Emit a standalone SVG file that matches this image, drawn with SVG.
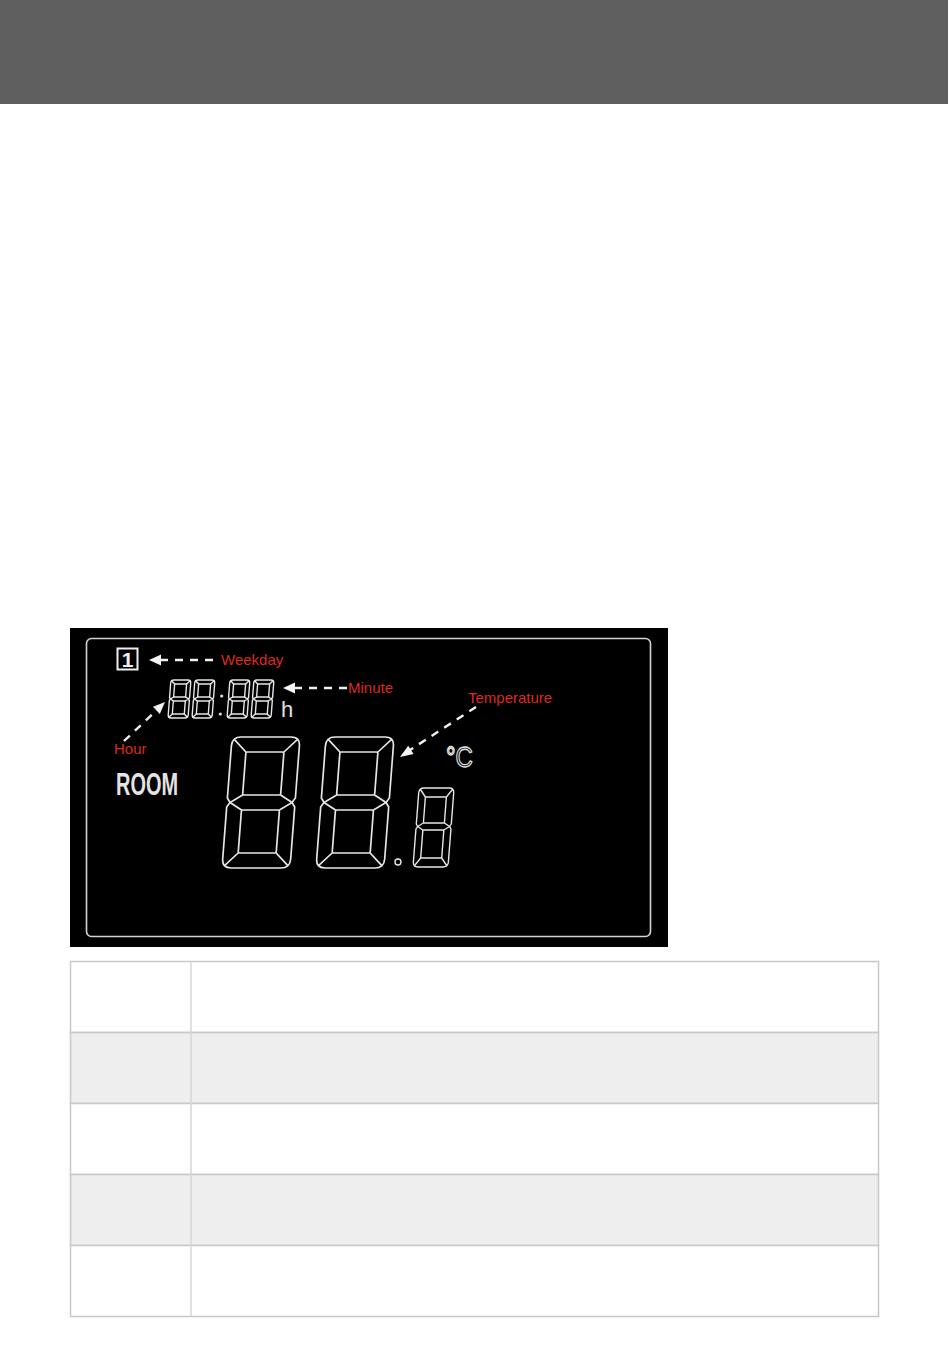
<svg xmlns="http://www.w3.org/2000/svg" xmlns:xlink="http://www.w3.org/1999/xlink" width="950" height="1358" viewBox="0 0 950 1358">
<style>
.seg{fill:none;stroke:#e6e6e6;stroke-linejoin:round;stroke-linecap:round}
.lbl{font-family:"Liberation Sans",Arial,sans-serif;font-size:15px;fill:#dc2a1e}
.dash{stroke:#f0f0f0;stroke-width:2.4;stroke-dasharray:8,7;fill:none}
.head{fill:#f4f4f4}
.cell{stroke:#c8c8c8;stroke-width:1.5}
</style>
<defs>
<g id="bigdigit" class="seg" stroke-width="1.7">
<path d="M9,-131 H59 Q68,-131 68,-122 V-70 L65,-65.5 L68,-61 V-9 Q68,0 59,0 H9 Q0,0 0,-9 V-61 L3,-65.5 L0,-70 V-122 Q0,-131 9,-131 Z"/>
<rect x="15" y="-116" width="38" height="43" rx="1.5"/>
<rect x="15" y="-58" width="38" height="43" rx="1.5"/>
<path d="M2.6,-128.4 L15,-116 M65.4,-128.4 L53,-116 M2.6,-2.6 L15,-15 M65.4,-2.6 L53,-15 M3,-65.5 L15,-73 M3,-65.5 L15,-58 M65,-65.5 L53,-73 M65,-65.5 L53,-58"/>
</g>
<g id="smalldigit" class="seg" stroke-width="1.4">
<path d="M5,-79 H30 Q35,-79 35,-74 V-43 L33.5,-40.5 L35,-38 V-5 Q35,0 30,0 H5 Q0,0 0,-5 V-38 L1.5,-40.5 L0,-43 V-74 Q0,-79 5,-79 Z"/>
<rect x="7" y="-70" width="21" height="26" rx="1"/>
<rect x="7" y="-37" width="21" height="28" rx="1"/>
<path d="M1.5,-77.5 L7,-70 M33.5,-77.5 L28,-70 M1.5,-1.5 L7,-9 M33.5,-1.5 L28,-9 M1.5,-40.5 L7,-44 M1.5,-40.5 L7,-37 M33.5,-40.5 L28,-44 M33.5,-40.5 L28,-37"/>
</g>
<g id="clockdigit" class="seg" stroke-width="1.4">
<path d="M3,-38 H17 Q20,-38 20,-35 V-20.5 L19,-19 L20,-17.5 V-3 Q20,0 17,0 H3 Q0,0 0,-3 V-17.5 L1,-19 L0,-20.5 V-35 Q0,-38 3,-38 Z"/>
<rect x="4" y="-34" width="12" height="13"/>
<rect x="4" y="-17" width="12" height="13"/>
<path d="M1,-37 L4,-34 M19,-37 L16,-34 M1,-1 L4,-4 M19,-1 L16,-4 M1,-19 L4,-21 M1,-19 L4,-17 M19,-19 L16,-21 M19,-19 L16,-17"/>
</g>
</defs>

<rect id="header" x="0" y="0" width="948" height="104" fill="#5f5f5f"/>

<g id="lcd">
<rect x="70" y="628" width="598" height="319" fill="#000"/>
<rect x="86.5" y="638.5" width="564" height="298" rx="5" fill="none" stroke="#d4d4d4" stroke-width="1.6"/>
</g>

<g id="weekday-icon">
<rect x="117.5" y="648.5" width="20" height="21" fill="none" stroke="#eee" stroke-width="2"/>
<text x="127.5" y="666.5" text-anchor="middle" font-family="Liberation Sans,Arial,sans-serif" font-weight="bold" font-size="21" fill="#f0f0f0">1</text>
</g>

<g id="clock">
<use xlink:href="#clockdigit" href="#clockdigit" transform="translate(168,718) skewX(-4.4)"/>
<use xlink:href="#clockdigit" href="#clockdigit" transform="translate(192,718) skewX(-4.4)"/>
<circle cx="221.7" cy="696" r="1.6" fill="#ddd"/>
<circle cx="220.3" cy="714" r="1.6" fill="#ddd"/>
<use xlink:href="#clockdigit" href="#clockdigit" transform="translate(227,718) skewX(-4.4)"/>
<use xlink:href="#clockdigit" href="#clockdigit" transform="translate(251,718) skewX(-4.4)"/>
<text x="281" y="717" font-family="Liberation Sans,Arial,sans-serif" font-size="22" fill="#e0e0e0">h</text>
</g>

<g id="room">
<text x="116" y="795" font-family="Liberation Sans,Arial,sans-serif" font-weight="bold" font-size="31" fill="#e4e4e4" textLength="62" lengthAdjust="spacingAndGlyphs">ROOM</text>
</g>

<g id="temperature-digits">
<use xlink:href="#bigdigit" href="#bigdigit" transform="translate(222,868) skewX(-4.4)"/>
<use xlink:href="#bigdigit" href="#bigdigit" transform="translate(316,868) skewX(-4.4)"/>
<circle cx="398" cy="862" r="3" fill="none" stroke="#e6e6e6" stroke-width="1.4"/>
<use xlink:href="#smalldigit" href="#smalldigit" transform="translate(413,867) skewX(-4.4)"/>
<text x="446" y="767" font-family="Liberation Sans,Arial,sans-serif" font-size="30" fill="#000" stroke="#e6e6e6" stroke-width="1.3" textLength="27" lengthAdjust="spacingAndGlyphs" opacity="0.99">°C</text>
</g>

<g id="connectors">
<line class="dash" x1="213" y1="660" x2="160" y2="660"/>
<polygon class="head" points="149,660 161,654.5 161,665.5"/>
<line class="dash" x1="347" y1="688" x2="294" y2="688"/>
<polygon class="head" points="283,688 295,682.5 295,693.5"/>
<line class="dash" x1="124" y1="741" x2="157" y2="710"/>
<polygon class="head" points="165,702 159.8,713.9 153,706.7"/>
<line class="dash" x1="476" y1="707" x2="410" y2="750"/>
<polygon class="head" points="400,757 413.6,754.1 408.2,745.7"/>
</g>

<g id="labels">
<text class="lbl" x="221" y="665">Weekday</text>
<text class="lbl" x="348" y="693">Minute</text>
<text class="lbl" x="468" y="703">Temperature</text>
<text class="lbl" x="114" y="754">Hour</text>
</g>

<g id="table">
<rect x="70.5" y="961.5" width="808" height="71" fill="#fff" class="cell"/>
<rect x="70.5" y="1032.5" width="808" height="71" fill="#eeeeee" class="cell"/>
<rect x="70.5" y="1103.5" width="808" height="71" fill="#fff" class="cell"/>
<rect x="70.5" y="1174.5" width="808" height="71" fill="#eeeeee" class="cell"/>
<rect x="70.5" y="1245.5" width="808" height="71" fill="#fff" class="cell"/>
<line x1="191" y1="962" x2="191" y2="1316" stroke="#d6d6d6" stroke-width="1.5"/>
</g>
</svg>
